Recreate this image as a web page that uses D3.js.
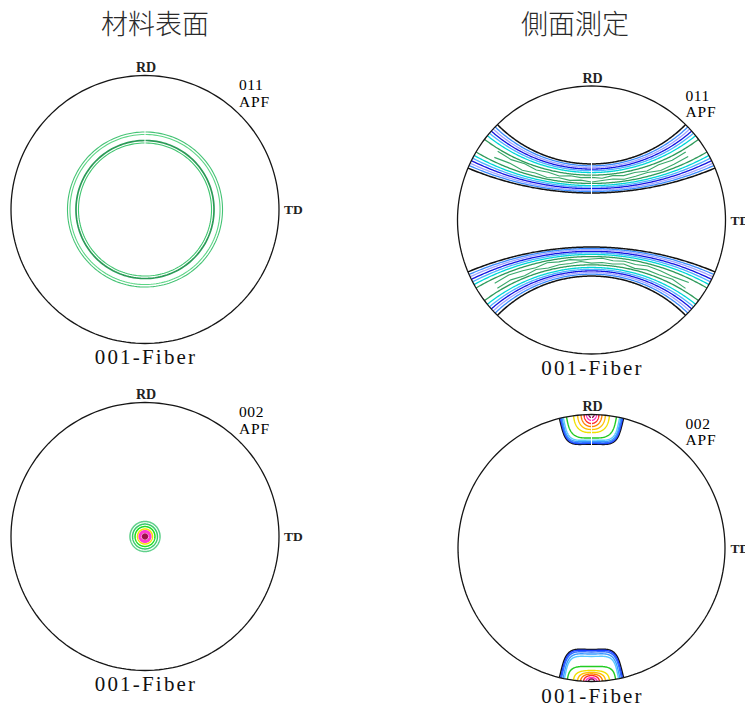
<!DOCTYPE html>
<html>
<head>
<meta charset="utf-8">
<script src="https://cdn.jsdelivr.net/npm/d3@7"></script>
<style>
  body { margin: 0; background: #fff; }
  svg { display: block; }
</style>
</head>
<body>
<svg id="chart" width="745" height="705"></svg>
<script>
// ---- Texts ----
const columnTitles = ["材料表面", "側面測定"];
const rowPoles = ["011", "002"];
const figureType = "APF";
const fiberName = "001-Fiber";
const axisNames = ["RD", "TD"];

// ---- Contour levels (angles in degrees) ----
// Surface, {011}: ring around ND, polar angle from ND
const ringLevels = [60.1, 58.5, 54.5, 52.8];
// Surface, {002}: spot at ND, polar angle from ND
const spotLevels = [12.8, 10.6, 8.5, 6.4, 4.3, 2.1];
// Side, {011}: bands around +RD and -RD, angle from the RD pole
const bandLevels = [44.6, 46.0, 47.2, 48.4, 49.6, 51.0, 53.0, 59.5, 61.2, 62.5, 63.7, 64.9, 66.0, 67.2];
// Irregular inner contours of the bands, angle from the pole at azimuth -80..80 (step 10)
const bandInnerUpper = [
  [54.2, 54.8, 53.9, 55.3, 54.6, 55.7, 54.4, 55.1, 54.7, 55.6, 54.3, 55.4, 54.8, 55.9, 54.5, 55.2, 54.6],
  [57.6, 56.9, 58.1, 57.3, 58.4, 57.0, 57.9, 57.1, 58.3, 57.4, 56.9, 58.1, 57.5, 57.0, 58.2, 57.6, 57.1]
];
const bandInnerLower = [
  [54.5, 55.1, 54.2, 55.6, 54.4, 55.2, 54.9, 55.8, 54.3, 55.0, 54.6, 55.7, 54.2, 55.3, 54.8, 55.5, 54.4],
  [57.2, 58.0, 57.4, 56.8, 58.2, 57.3, 57.9, 56.9, 57.6, 58.3, 57.1, 57.8, 56.9, 58.0, 57.4, 56.9, 57.7]
];
// Side, {002}: peaks at +RD (top) and -RD (bottom)
// half-width along the rim and depth toward ND, in degrees
const peakTopWidth    = [13.9, 13.5, 13.2, 12.8, 12.2, 10.8, 7.75, 6.0, 4.5, 3.2, 2.15, 1.1];
const peakTopDepth    = [14.2, 13.8, 13.4, 12.8, 12.1, 11.0, 8.3, 6.8, 5.4, 4.0, 2.6, 1.3];
const peakBottomWidth = [13.9, 13.4, 13.0, 12.3, 11.7, 10.4, 7.75, 6.0, 4.7, 3.4, 2.4, 1.3];
const peakBottomDepth = [15.5, 15.0, 14.2, 13.1, 11.8, 6.8, 4.9, 4.0, 3.3, 2.6, 1.7, 1.1];
// squareness of each peak contour (2 = round, larger = boxier)
const peakShape = [4, 4, 4, 4, 4, 3.2, 2.6, 2.4, 2.2, 2.1, 2, 2];

// ---- Styles ----
const ringColors = ["#45c375", "#5cd585", "#2b9a57", "#3fc56f"];
const ringWidths = [1.1, 1.1, 1.7, 1.1];
const spotColors = ["#5fd08a", "#38c96b", "#20dd20", "#f2e400", "#ff3ad0", "#a0104a"];
const bandColors = ["#111", "#3a8cff", "#a4a4ff", "#1414e0", "#50b0ff", "#00d6d6", "#2e9a5a",
                    "#2e9a5a", "#00d6d6", "#50b0ff", "#1414e0", "#a4a4ff", "#3a8cff", "#111"];
const bandInnerColor = "#3aa86a";
const peakColors = ["#111", "#1a3cff", "#2f6bff", "#3a9aff", "#5ac8ff", "#22cc22",
                    "#f0e000", "#ffbf00", "#ff8000", "#ff2a2a", "#ff33cc", "#8b0a50"];

const layout = [
  { col: 0, row: 0, cx: 145,   cy: 209.5, r: 134,   seam: true },
  { col: 1, row: 0, cx: 591.5, cy: 220,   r: 134,   seam: true },
  { col: 0, row: 1, cx: 145,   cy: 536.5, r: 134,   seam: false },
  { col: 1, row: 1, cx: 591.5, cy: 548,   r: 133.5, seam: true }
];

const svg = d3.select("#chart");
const serif = "'Liberation Serif', 'Times New Roman', serif";

// column titles
svg.selectAll("text.title")
  .data(columnTitles)
  .join("text")
  .attr("class", "title")
  .attr("x", (d, i) => [155, 575][i])
  .attr("y", 22)
  .attr("text-anchor", "middle")
  .attr("dominant-baseline", "central")
  .attr("font-family", "'Noto Sans CJK SC', 'Noto Sans CJK JP', sans-serif")
  .attr("font-weight", 300)
  .attr("font-size", 27)
  .attr("fill", "#2a2a2a")
  .text(d => d);

// constant-angle line about a pole (north = +RD, south = -RD)
function parallel(alpha, sign) {
  const lat = sign * (90 - alpha);
  return { type: "LineString", coordinates: d3.range(-92, 92.01, 1).map(lon => [lon, lat]) };
}
// irregular line about a pole, sampled every 10 degrees of azimuth
function irregular(alphas, sign) {
  return { type: "LineString", coordinates: alphas.map((a, i) => [-80 + i * 10, sign * (90 - a)]) };
}
// superellipse contour around a pole lying on the rim
function peakContour(w, d, n, sign) {
  const pts = [[-w, -0.6]];
  d3.range(-90, 90.01, 2).forEach(t => {
    const s = Math.sin(t * Math.PI / 180), c = Math.cos(t * Math.PI / 180);
    const u = w * Math.sign(s) * Math.pow(Math.abs(s), 2 / n);
    const v = d * Math.pow(Math.abs(c), 2 / n);
    pts.push([u, v]);
  });
  pts.push([w, -0.6]);
  const coords = pts.map(([u, v]) => {
    const rho = Math.hypot(u, v);
    const phi = Math.atan2(u, v) * 180 / Math.PI;
    return [phi, sign * (90 - rho)];
  });
  return { type: "LineString", coordinates: coords };
}

layout.forEach(p => {
  const projection = d3.geoStereographic()
    .rotate([0, 0])
    .scale(p.r)
    .translate([p.cx, p.cy])
    .clipAngle(90)
    .precision(0.2);
  const path = d3.geoPath(projection);
  const g = svg.append("g");
  const contours = g.append("g").attr("fill", "none");

  if (p.row === 0 && p.col === 0) {
    contours.selectAll("path")
      .data(ringLevels)
      .join("path")
      .attr("d", a => path(d3.geoCircle().center([0, 0]).radius(a)()))
      .attr("stroke", (a, i) => ringColors[i])
      .attr("stroke-width", (a, i) => ringWidths[i]);
  } else if (p.row === 1 && p.col === 0) {
    contours.selectAll("path")
      .data(spotLevels)
      .join("path")
      .attr("d", a => path(d3.geoCircle().center([0, 0]).radius(a)()))
      .attr("stroke", (a, i) => spotColors[i])
      .attr("stroke-width", (a, i) => i === 4 ? 3 : 1.5)
      .attr("fill", (a, i) => i === 5 ? spotColors[5] : "none");
  } else if (p.row === 0 && p.col === 1) {
    [1, -1].forEach(sign => {
      const inner = sign > 0 ? bandInnerUpper : bandInnerLower;
      contours.append("g").selectAll("path")
        .data(inner)
        .join("path")
        .attr("d", arr => path(irregular(arr, sign)))
        .attr("stroke", bandInnerColor)
        .attr("stroke-width", 1.1);
      contours.append("g").selectAll("path")
        .data(bandLevels)
        .join("path")
        .attr("d", a => path(parallel(a, sign)))
        .attr("stroke", (a, i) => bandColors[i])
        .attr("stroke-width", (a, i) => (i === 0 || i === bandLevels.length - 1) ? 1.5 : 1.3);
    });
  } else {
    [[1, peakTopWidth, peakTopDepth], [-1, peakBottomWidth, peakBottomDepth]].forEach(([sign, W, D]) => {
      contours.append("g").selectAll("path")
        .data(W)
        .join("path")
        .attr("d", (w, i) => path(peakContour(w, D[i], peakShape[i], sign)))
        .attr("stroke", (w, i) => peakColors[i])
        .attr("stroke-width", (w, i) => i === 0 ? 1.5 : 1.4);
    });
  }

  // thin white seam along the RD meridian of the plotted grid
  if (p.seam) {
    g.append("path")
      .attr("d", path({ type: "LineString", coordinates: [[0, 20], [0, 89.5]] }))
      .attr("fill", "none")
      .attr("stroke", "#fff")
      .attr("stroke-width", 1);
  }

  // primitive circle
  g.append("path")
    .attr("d", path({ type: "Sphere" }))
    .attr("fill", "none")
    .attr("stroke", "#151515")
    .attr("stroke-width", 1.3);

  // axis labels
  g.append("text")
    .attr("x", p.cx + 1).attr("y", p.cy - 137.5)
    .attr("text-anchor", "middle")
    .attr("font-family", serif).attr("font-weight", "bold").attr("font-size", 14)
    .attr("fill", "#222")
    .text(axisNames[0]);
  g.append("text")
    .attr("x", p.cx + 139).attr("y", p.cy + 4.5)
    .attr("font-family", serif).attr("font-weight", "bold").attr("font-size", 13.5)
    .attr("fill", "#222")
    .text(axisNames[1]);
  // pole / figure type
  g.append("text")
    .attr("x", p.cx + 94).attr("y", p.cy - 119.5)
    .attr("font-family", serif).attr("font-size", 15.5)
    .attr("letter-spacing", 0.6)
    .attr("fill", "#000")
    .text(rowPoles[p.row]);
  g.append("text")
    .attr("x", p.cx + 94).attr("y", p.cy - 103)
    .attr("font-family", serif).attr("font-size", 15.5)
    .attr("letter-spacing", 0.8)
    .attr("fill", "#000")
    .text(figureType);
  // fiber name
  g.append("text")
    .attr("x", p.cx + 1).attr("y", p.cy + 154.5)
    .attr("text-anchor", "middle")
    .attr("font-family", serif).attr("font-size", 21)
    .attr("letter-spacing", 2.2)
    .attr("fill", "#111")
    .text(fiberName);
});
</script>
</body>
</html>
